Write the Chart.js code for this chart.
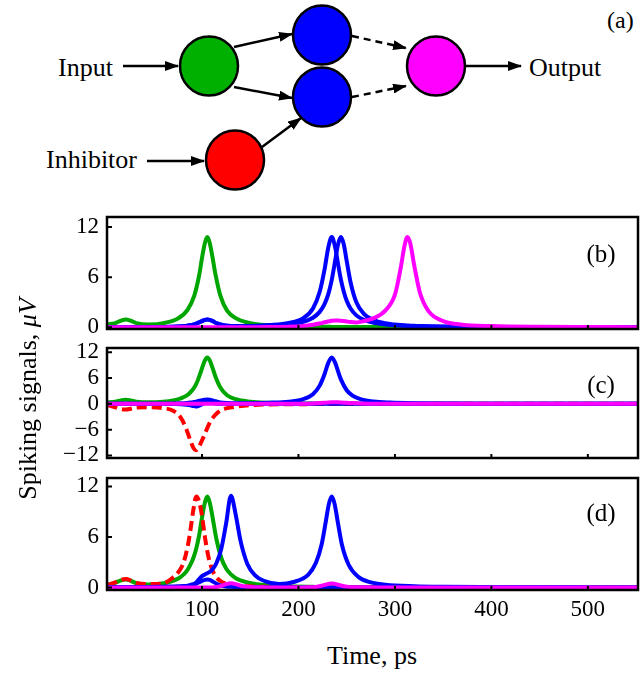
<!DOCTYPE html>
<html>
<head>
<meta charset="utf-8">
<script src="https://cdn.jsdelivr.net/npm/chart.js@4"></script>
<style>
  html, body { margin: 0; padding: 0; background: #fff; }
  #wrap { position: relative; width: 644px; height: 677px; overflow: hidden; font-family: 'Liberation Serif', 'DejaVu Serif', serif; color: #000; }
  canvas { position: absolute; left: 0; }
  .lbl { position: absolute; white-space: nowrap; text-align: center; }
</style>
</head>
<body>
<div id="wrap">
  <!-- (a) network diagram -->
  <svg width="644" height="200" style="position:absolute;left:0;top:0" font-family="Liberation Serif, serif">
    <defs>
      <marker id="ah" markerWidth="14" markerHeight="10" refX="13" refY="5" orient="auto" markerUnits="userSpaceOnUse">
        <path d="M0,0 L14,5 L0,10 z" fill="#000"/>
      </marker>
    </defs>
    <g stroke="#000" stroke-width="2.5" fill="none">
      <line x1="123" y1="66" x2="178" y2="66" marker-end="url(#ah)"/>
      <line x1="147" y1="161" x2="204" y2="161" marker-end="url(#ah)"/>
      <line x1="466" y1="66" x2="521" y2="66" marker-end="url(#ah)"/>
      <line x1="234" y1="47" x2="292" y2="34" marker-end="url(#ah)"/>
      <line x1="234" y1="87" x2="292" y2="98" marker-end="url(#ah)"/>
      <line x1="262" y1="147" x2="301" y2="118" marker-end="url(#ah)"/>
      <line x1="352" y1="36" x2="406" y2="48" stroke-dasharray="7,5" marker-end="url(#ah)"/>
      <line x1="352" y1="97" x2="406" y2="86" stroke-dasharray="7,5" marker-end="url(#ah)"/>
    </g>
    <g stroke="#000" stroke-width="2.5">
      <ellipse cx="209" cy="66" rx="29" ry="29.5" fill="#00b000"/>
      <ellipse cx="322" cy="35" rx="29" ry="29.5" fill="#0000ff"/>
      <ellipse cx="322" cy="97" rx="29" ry="29.5" fill="#0000ff"/>
      <ellipse cx="235" cy="160" rx="29" ry="29.5" fill="#ff0000"/>
      <ellipse cx="436" cy="66" rx="29" ry="29.5" fill="#ff00ff"/>
    </g>
    <text x="58" y="76" font-size="26">Input</text>
    <text x="46" y="168" font-size="26">Inhibitor</text>
    <text x="529" y="76" font-size="26">Output</text>
    <text x="607" y="28" font-size="24">(a)</text>
  </svg>

  <canvas id="panelB"></canvas>
  <canvas id="panelC"></canvas>
  <canvas id="panelD"></canvas>

  <div class="lbl" style="left:580px;top:239px;width:42px;font-size:25px;line-height:30px">(b)</div>
  <div class="lbl" style="left:580px;top:370px;width:42px;font-size:25px;line-height:30px">(c)</div>
  <div class="lbl" style="left:580px;top:498px;width:42px;font-size:25px;line-height:30px">(d)</div>

  <div class="lbl" style="left:-122px;top:384px;width:300px;font-size:26px;line-height:30px;transform:rotate(-90deg)">Spiking signals, <i>μV</i></div>
  <div class="lbl" style="left:272px;top:641px;width:200px;font-size:26px;line-height:30px">Time, ps</div>
</div>

<script>
// ── Axis ticks ──
const xTicks = [100, 200, 300, 400, 500];
const yTicksPos = [0, 6, 12];
const yTicksC = [-12, -6, 0, 6, 12];

// ── Panel (b): no inhibitor ──
const tB = [2, 10, 16, 21, 26, 32, 45, 60, 75, 85, 92, 97, 100, 103, 105.5, 108, 111, 114, 119, 126, 135, 150, 170, 190, 205, 215, 222, 227, 231, 234.5, 238, 241, 244, 247, 250, 254, 260, 268, 278, 290, 300, 306, 310, 313, 316, 320, 326, 335, 350, 370, 400, 450, 500, 552];
const bGreen = [0.35, 0.5, 0.8, 0.95, 0.8, 0.5, 0.35, 0.5, 1.05, 2.1, 3.8, 6.2, 8.3, 10.1, 10.8, 10.1, 8.3, 6.3, 3.8, 2.0, 1.1, 0.5, 0.25, 0.15, 0.1, 0.08, 0.07, 0.06, 0.06, 0.05, 0.05, 0.05, 0.05, 0.05, 0.04, 0.04, 0.04, 0.03, 0.03, 0.03, 0.02, 0.02, 0.02, 0.02, 0.02, 0.02, 0.02, 0.01, 0.01, 0.01, 0, 0, 0, 0];
const bBlue1 = [0.02, 0.02, 0.02, 0.03, 0.03, 0.03, 0.04, 0.05, 0.1, 0.2, 0.35, 0.6, 0.75, 0.9, 0.95, 0.9, 0.75, 0.55, 0.35, 0.2, 0.15, 0.17, 0.27, 0.52, 1.1, 2.25, 4.25, 6.9, 9.6, 10.8, 9.6, 7.6, 5.7, 4.25, 3.17, 2.25, 1.43, 0.89, 0.54, 0.34, 0.25, 0.2, 0.18, 0.17, 0.16, 0.15, 0.13, 0.1, 0.08, 0.06, 0.04, 0.02, 0.01, 0];
const bBlue2 = [0.02, 0.02, 0.02, 0.03, 0.03, 0.03, 0.04, 0.05, 0.1, 0.2, 0.35, 0.6, 0.75, 0.9, 0.95, 0.9, 0.75, 0.55, 0.35, 0.2, 0.14, 0.14, 0.2, 0.36, 0.67, 1.15, 1.85, 2.77, 4.0, 5.68, 7.94, 9.91, 10.8, 9.91, 7.94, 5.4, 3.0, 1.59, 0.86, 0.48, 0.33, 0.27, 0.24, 0.22, 0.2, 0.18, 0.15, 0.12, 0.09, 0.07, 0.04, 0.02, 0.01, 0];
const bMagenta = [0, 0, 0, 0, 0, 0, 0, 0, 0, 0, 0, 0, 0, 0, 0.01, 0.01, 0.01, 0.01, 0.01, 0.01, 0.01, 0.02, 0.03, 0.06, 0.15, 0.3, 0.45, 0.6, 0.7, 0.78, 0.82, 0.82, 0.8, 0.76, 0.7, 0.63, 0.58, 0.75, 1.1, 2.0, 3.9, 7.1, 9.8, 10.8, 10.0, 7.4, 4.1, 1.9, 0.75, 0.32, 0.15, 0.06, 0.03, 0.02];

// ── Panel (c): inhibitory pulse ──
const tC = [2, 10, 16, 21, 26, 32, 45, 60, 70, 78, 84, 88, 91, 93.5, 96, 99, 103, 105.5, 108, 111, 114, 119, 126, 135, 150, 170, 190, 205, 215, 222, 227, 231, 234.5, 238, 241, 244, 250, 256, 265, 278, 295, 320, 350, 400, 450, 500, 552];
const cGreen = [0.35, 0.5, 0.8, 0.95, 0.8, 0.5, 0.35, 0.5, 0.8, 1.3, 1.9, 2.7, 3.5, 4.4, 5.7, 7.6, 10.1, 10.8, 10.1, 8.3, 6.3, 3.8, 2.0, 1.1, 0.5, 0.25, 0.15, 0.1, 0.08, 0.07, 0.06, 0.06, 0.05, 0.05, 0.05, 0.05, 0.04, 0.04, 0.03, 0.03, 0.02, 0.02, 0.01, 0, 0, 0, 0];
const cBlue1 = [0.02, 0.02, 0.02, 0.03, 0.03, 0.03, 0.04, 0.05, 0.08, 0.12, 0.2, 0.3, 0.4, 0.5, 0.65, 0.8, 0.95, 1.0, 0.95, 0.8, 0.6, 0.35, 0.2, 0.13, 0.15, 0.27, 0.52, 1.1, 2.25, 4.25, 6.9, 9.6, 10.8, 9.6, 7.6, 5.7, 3.17, 1.93, 1.05, 0.54, 0.3, 0.15, 0.08, 0.04, 0.02, 0.01, 0];
const cBlue2 = [0, 0, 0, 0, 0, 0, 0, 0, -0.05, -0.1, -0.2, -0.35, -0.5, -0.6, -0.5, -0.2, 0.3, 0.5, 0.4, 0.25, 0.1, 0.03, 0, 0, 0, 0, 0, 0, 0, 0, 0, 0, 0, 0, 0, 0, 0, 0, 0, 0, 0, 0, 0, 0, 0, 0, 0];
const cMagenta = [0, 0, 0, 0, 0, 0, 0, 0, 0, 0, 0, 0, 0, 0, 0, 0, 0, 0, 0, 0, 0, 0, 0, 0, 0, 0, 0, 0.03, 0.1, 0.18, 0.25, 0.32, 0.36, 0.37, 0.35, 0.32, 0.25, 0.18, 0.1, 0.05, 0.02, 0, 0, 0, 0, 0, 0];
const cRed = [-0.3, -0.8, -1.2, -1.3, -1.15, -0.85, -0.8, -1.0, -1.6, -3.2, -6.0, -8.6, -10.2, -10.8, -10.4, -9.0, -7.0, -5.6, -4.4, -3.3, -2.5, -1.6, -1.0, -0.65, -0.3, -0.15, -0.1, -0.07, -0.05, -0.05, -0.04, -0.04, -0.04, -0.03, -0.03, -0.03, -0.03, -0.02, -0.02, -0.02, -0.01, -0.01, 0, 0, 0, 0, 0];

// ── Panel (d): excitatory pulse on inhibitor ──
const tD = [2, 10, 16, 21, 26, 32, 45, 60, 70, 76, 81, 85, 88, 91, 94, 97, 100, 103, 105.5, 108, 111, 115, 120, 125, 130, 135, 140, 147, 155, 165, 180, 195, 210, 218, 224, 228, 231.5, 234.5, 237.5, 241, 245, 252, 262, 275, 290, 320, 350, 400, 450, 500, 552];
const dGreen = [0.3, 0.55, 0.85, 0.95, 0.8, 0.5, 0.35, 0.5, 0.8, 1.1, 1.55, 2.1, 2.7, 3.5, 4.6, 6.2, 8.3, 10.1, 10.8, 10.1, 8.3, 5.7, 3.5, 2.25, 1.55, 1.1, 0.85, 0.6, 0.42, 0.3, 0.19, 0.12, 0.08, 0.07, 0.06, 0.06, 0.05, 0.05, 0.05, 0.05, 0.04, 0.04, 0.03, 0.03, 0.02, 0.02, 0.01, 0, 0, 0, 0];
const dBlue1 = [0.05, 0.05, 0.05, 0.05, 0.05, 0.05, 0.07, 0.1, 0.12, 0.14, 0.17, 0.22, 0.3, 0.4, 0.6, 1.0, 1.35, 1.55, 1.7, 1.85, 2.15, 2.9, 4.6, 7.6, 10.9, 8.6, 5.5, 2.8, 1.45, 0.75, 0.4, 0.65, 1.5, 2.9, 5.1, 7.6, 9.9, 10.8, 9.9, 7.6, 5.1, 2.7, 1.26, 0.6, 0.33, 0.15, 0.08, 0.04, 0.02, 0.01, 0];
const dBlue2 = [0, 0, 0, 0, 0, 0, 0, 0.02, 0.03, 0.05, 0.08, 0.12, 0.2, 0.3, 0.45, 0.62, 0.78, 0.9, 0.95, 0.9, 0.72, 0.45, 0.22, 0.12, 0.08, 0.05, 0.04, 0.03, 0.02, 0, 0, 0, 0, 0, 0, 0, 0, 0, 0, 0, 0, 0, 0, 0, 0, 0, 0, 0, 0, 0, 0];
const dMagenta = [0, 0, 0, 0, 0, 0, 0, 0, 0, 0, 0, 0, 0, 0, 0, 0, 0, 0, 0, 0, 0.01, 0.05, 0.2, 0.4, 0.5, 0.4, 0.2, 0.08, 0.03, 0.01, 0, 0, 0.02, 0.06, 0.2, 0.33, 0.43, 0.48, 0.43, 0.33, 0.2, 0.07, 0.03, 0.01, 0, 0, 0, 0, 0, 0, 0];
const dRed = [0.3, 0.6, 0.9, 1.0, 0.85, 0.55, 0.4, 0.5, 1.2, 1.9, 3.0, 4.8, 6.8, 9.2, 10.8, 10.2, 8.5, 6.0, 4.3, 3.0, 2.0, 1.2, 0.7, 0.45, 0.32, 0.25, 0.2, 0.15, 0.1, 0.08, 0.05, 0.03, 0.02, 0.02, 0.02, 0.02, 0.02, 0.02, 0.02, 0.01, 0.01, 0.01, 0.01, 0.01, 0, 0, 0, 0, 0, 0, 0];

const GREEN = '#00a600', BLUE = '#0000ff', MAGENTA = '#ff00ff', RED = '#ff0000';
const SERIF = "'Liberation Serif', 'DejaVu Serif', serif";

function pts(t, v) {
    return t.map(function (x, i) { return { x: x, y: v[i] }; });
}

function line(t, v, color, order, dashed) {
    return {
        data: pts(t, v),
        borderColor: color,
        borderWidth: 4,
        borderDash: dashed ? [10, 5] : [],
        pointRadius: 0,
        cubicInterpolationMode: 'monotone',
        order: order,
    };
}

// frame + inward tick marks
const framePlugin = {
    id: 'frame',
    afterDraw: function (chart) {
        const ctx = chart.ctx, a = chart.chartArea;
        const xs = chart.scales.x, ys = chart.scales.y;
        ctx.save();
        ctx.strokeStyle = '#000';
        ctx.lineWidth = 2;
        ctx.beginPath();
        ys.ticks.forEach(function (t) {
            const py = ys.getPixelForValue(t.value);
            ctx.moveTo(a.left, py);
            ctx.lineTo(a.left + 5, py);
        });
        xs.ticks.forEach(function (t) {
            const px = xs.getPixelForValue(t.value);
            ctx.moveTo(px, a.bottom);
            ctx.lineTo(px, a.bottom - 4);
        });
        ctx.stroke();
        ctx.lineWidth = 2.5;
        ctx.strokeRect(a.left, a.top, a.right - a.left, a.bottom - a.top);
        ctx.restore();
    }
};

function minusFmt(v) {
    return v < 0 ? '\u2212' + Math.abs(v) : String(v);
}

function makePanel(id, top, bottom, yMin, yMax, yTicks, datasets, showX) {
    const padTop = 10;
    const xH = showX ? 50 : 8;
    const canvas = document.getElementById(id);
    canvas.width = 644;
    canvas.height = Math.round(bottom - top + padTop + xH);
    canvas.style.top = (top - padTop) + 'px';

    return new Chart(canvas.getContext('2d'), {
        type: 'line',
        data: { datasets: datasets },
        options: {
            responsive: false,
            animation: false,
            layout: { padding: { top: padTop, right: 6, left: 0, bottom: 0 } },
            plugins: { legend: { display: false }, tooltip: { enabled: false } },
            scales: {
                x: {
                    type: 'linear',
                    min: 1.5,
                    max: 552,
                    afterBuildTicks: function (s) { s.ticks = xTicks.map(function (v) { return { value: v }; }); },
                    afterFit: function (s) { s.height = xH; s.paddingLeft = 0; s.paddingRight = 0; },
                    grid: { display: false, drawTicks: false },
                    border: { display: false },
                    ticks: {
                        display: showX,
                        autoSkip: false,
                        color: '#000',
                        padding: 6,
                        maxRotation: 0,
                        font: { family: SERIF, size: 23 },
                    },
                },
                y: {
                    min: yMin,
                    max: yMax,
                    afterBuildTicks: function (s) { s.ticks = yTicks.map(function (v) { return { value: v }; }); },
                    afterFit: function (s) { s.width = 107; s.paddingTop = 0; s.paddingBottom = 0; },
                    grid: { display: false, drawTicks: false },
                    border: { display: false },
                    ticks: {
                        autoSkip: false,
                        color: '#000',
                        padding: 8,
                        font: { family: SERIF, size: 23 },
                        callback: minusFmt,
                    },
                },
            },
        },
        plugins: [framePlugin],
    });
}

makePanel('panelB', 217, 328.5, -0.2, 13.2, yTicksPos, [
    line(tB, bMagenta, MAGENTA, 0),
    line(tB, bBlue1, BLUE, 1),
    line(tB, bBlue2, BLUE, 1),
    line(tB, bGreen, GREEN, 3),
], false);

makePanel('panelC', 348, 458, -12.6, 13, yTicksC, [
    line(tC, cMagenta, MAGENTA, 0),
    line(tC, cBlue1, BLUE, 1),
    line(tC, cBlue2, BLUE, 1),
    line(tC, cRed, RED, 2, true),
    line(tC, cGreen, GREEN, 3),
], false);

makePanel('panelD', 478, 589.5, -0.3, 13, yTicksPos, [
    line(tD, dMagenta, MAGENTA, 0),
    line(tD, dBlue1, BLUE, 1),
    line(tD, dBlue2, BLUE, 1),
    line(tD, dRed, RED, 2, true),
    line(tD, dGreen, GREEN, 3),
], true);
</script>
</body>
</html>
